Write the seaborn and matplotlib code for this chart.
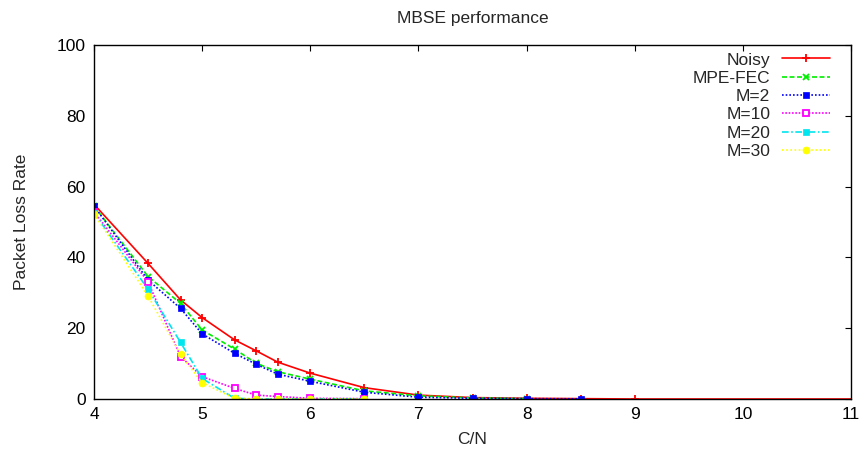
import matplotlib
matplotlib.use("Agg")
import matplotlib.pyplot as plt
import seaborn as sns
import pandas as pd

# ---- data ----
noisy_x = [4, 4.5, 4.8, 5, 5.3, 5.5, 5.7, 6, 6.5, 7, 7.5, 8, 8.5, 9, 12]
noisy_y = [55.0, 38.3, 28.0, 23.0, 16.7, 13.6, 10.4, 7.3, 3.2, 1.1, 0.4, 0.2, 0.1, 0.0, 0.0]

mpe_x = [4, 4.5, 4.8, 5, 5.3, 5.5, 5.7, 6, 6.5, 7, 7.5, 8]
mpe_y = [54.5, 34.6, 27.0, 19.5, 14.1, 10.1, 7.7, 5.6, 2.3, 0.9, 0.3, 0.1]

m2_x = [4, 4.5, 4.8, 5, 5.3, 5.5, 5.7, 6, 6.5, 7, 7.5, 8, 8.5]
m2_y = [54.5, 33.6, 25.6, 18.4, 12.9, 9.8, 7.0, 5.0, 1.9, 0.5, 0.2, 0.1, 0.05]

m10_x = [4, 4.5, 4.8, 5, 5.3, 5.5, 5.7, 6, 6.5]
m10_y = [52.9, 33.1, 12.0, 6.3, 3.0, 1.1, 0.7, 0.2, 0.1]

m20_x = [4, 4.5, 4.8, 5, 5.3, 5.5, 5.7, 6, 6.5]
m20_y = [52.6, 31.0, 16.0, 5.8, 0.2, 0.0, 0.0, 0.0, 0.0]

m30_x = [4, 4.5, 4.8, 5, 5.3, 5.5, 5.7, 6, 6.5]
m30_y = [52.3, 29.1, 12.6, 4.6, 0.2, 0.0, 0.0, 0.0, 0.0]

x_ticks = [4, 5, 6, 7, 8, 9, 10, 11]
y_ticks = [0, 20, 40, 60, 80, 100]

# ---- style ----
sns.set_style("white")
plt.rcParams["font.family"] = ["Liberation Sans", "DejaVu Sans"]
FS = 12.5

fig = plt.figure(figsize=(8.67, 4.55), dpi=100)
ax = fig.add_axes([94 / 867, 1 - 399 / 455, (851 - 94) / 867, (399 - 45) / 455])

series = [
    ("Noisy", noisy_x, noisy_y, "#ff0000",
     dict(linestyle="-", marker="+", markersize=6, markeredgewidth=1.3)),
    ("MPE-FEC", mpe_x, mpe_y, "#00ee00",
     dict(linestyle=(0, (3, 1.5)), marker="x", markersize=4.5, markeredgewidth=1.3)),
    ("M=2", m2_x, m2_y, "#0000ff",
     dict(linestyle=(0, (1, 1.2)), marker="s", markersize=4.5, markeredgewidth=0.5)),
    ("M=10", m10_x, m10_y, "#ff00ff",
     dict(linestyle=(0, (1, 1)), marker="s", markersize=5, markerfacecolor="white",
          markeredgewidth=1.3)),
    ("M=20", m20_x, m20_y, "#00e5ee",
     dict(linestyle=(0, (4, 1.5, 1, 1.5)), marker="s", markersize=4, markeredgewidth=0.5)),
    ("M=30", m30_x, m30_y, "#ffff00",
     dict(linestyle=(0, (1, 1.5)), marker="o", markersize=5, markeredgewidth=0.5)),
]

for label, xs, ys, col, kw in series:
    df = pd.DataFrame({"x": xs, "y": ys})
    sns.lineplot(data=df, x="x", y="y", ax=ax, label=label, color=col,
                 markeredgecolor=col, linewidth=1.2, **kw)

ax.set_xlim(4, 11)
ax.set_ylim(0, 100)
ax.set_xticks(x_ticks)
ax.set_yticks(y_ticks)
ax.set_xticklabels([str(t) for t in x_ticks])
ax.set_yticklabels([str(t) for t in y_ticks])
ax.tick_params(direction="in", length=4, width=0.8, top=True, right=True,
               labelsize=FS, pad=6, colors="black")
for sp in ax.spines.values():
    sp.set_visible(True)
    sp.set_color("black")
    sp.set_linewidth(1.0)

ax.set_xlabel("C/N", fontsize=FS, labelpad=7)
ax.set_ylabel("Packet Loss Rate", fontsize=FS, labelpad=20)
ax.set_title("MBSE performance", fontsize=FS, pad=16)

leg = ax.legend(loc="upper right", bbox_to_anchor=(0.977, 0.989),
                frameon=False, markerfirst=False, fontsize=FS,
                handlelength=2.75, handletextpad=0.7, labelspacing=0.18,
                borderaxespad=0.0, borderpad=0.2)
for t in leg.get_texts():
    t.set_ha("right")

fig.savefig("out.png", dpi=100)
